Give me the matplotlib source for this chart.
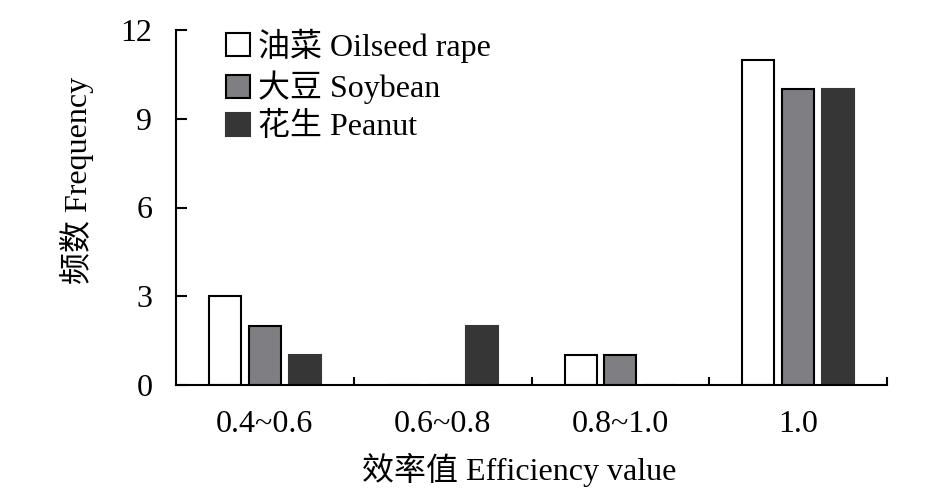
import numpy as np
import matplotlib
matplotlib.use("Agg")
import matplotlib.pyplot as plt

plt.rcParams['font.family'] = ['Liberation Serif', 'Noto Sans CJK SC']
plt.rcParams['font.size'] = 23

categories = ["0.4~0.6", "0.6~0.8", "0.8~1.0", "1.0"]
rape = [3, 0, 1, 11]
soybean = [2, 0, 1, 10]
peanut = [1, 2, 0, 10]
labels = ["油菜 Oilseed rape", "大豆 Soybean", "花生 Peanut"]
colors = ["white", "#7e7e83", "#363636"]

fig = plt.figure(figsize=(9.47, 5), dpi=100)
ax = fig.add_axes([0.1859, 0.23, 0.7507, 0.71])

x = np.arange(len(categories)) + 0.5
w = 0.18
step = 0.223
for k, (vals, lab, c) in enumerate(zip([rape, soybean, peanut], labels, colors)):
    ec = "black" if k < 2 else c
    ax.bar(x + (k - 1) * step, vals, width=w, color=c, edgecolor=ec,
           linewidth=1.5, label=lab)

ax.set_xlim(0, 4)
ax.set_ylim(0, 12)
ax.set_yticks([0, 3, 6, 9, 12])
ax.set_xticks([1, 2, 3, 4])
ax.set_xticklabels([])
ax.set_xticks(x, minor=True)
ax.set_xticklabels(categories, minor=True)
ax.tick_params(axis='x', which='major', direction='in', length=6, width=1.5)
ax.tick_params(axis='x', which='minor', length=0, pad=18)
ax.tick_params(axis='y', direction='in', length=8, width=1.5, pad=17)

for s in ['top', 'right']:
    ax.spines[s].set_visible(False)
for s in ['left', 'bottom']:
    ax.spines[s].set_linewidth(1.5)

ax.set_xlabel("效率值 Efficiency value")
ax.xaxis.set_label_coords(0.482, -0.19)
ax.set_ylabel("频数 Frequency")
ax.yaxis.set_label_coords(-0.115, 0.575)

ax.legend(loc='upper left', bbox_to_anchor=(0.052, 1.04), frameon=False,
          handlelength=0.75, handleheight=0.75, handletextpad=0.25,
          labelspacing=0.25, borderaxespad=0)

fig.savefig("out.png", dpi=100)
